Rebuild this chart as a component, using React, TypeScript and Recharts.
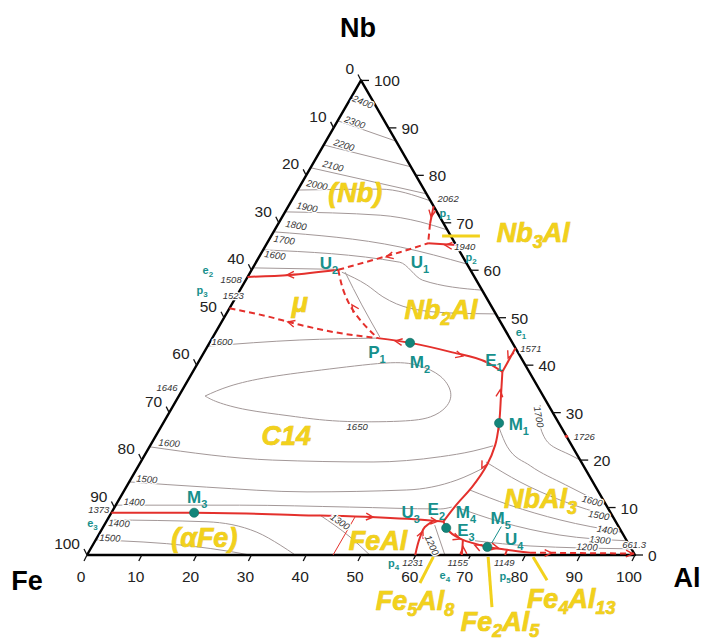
import React from 'react';
import { ScatterChart, Scatter, XAxis, YAxis } from 'recharts';

type P = [number, number]; // [at.% Al, at.% Nb]

// ---------- layout constants ----------
const W = 701;
const H = 642;
const FE_X = 87;
const FE_Y = 555;
const SIDE = 548;
const UNIT = SIDE / 100;
const X_DOMAIN: [number, number] = [-FE_X / UNIT, (W - FE_X) / UNIT];
const Y_DOMAIN: [number, number] = [-(H - FE_Y) / UNIT, FE_Y / UNIT];
const S3 = Math.sqrt(3) / 2;
const toXY = ([al, nb]: P) => ({ x: al + nb / 2, y: nb * S3 });

const RED = '#e4302c';
const TEAL = '#17908c';
const DOT = '#13857a';
const YELLOW = '#f2d11c';
const GRAY = '#a39898';
const FONT = '"Liberation Sans", Arial, Helvetica, sans-serif';

// ---------- data ----------
const CORNERS: P[] = [[0, 0], [100, 0], [0, 100], [0, 0]];
const TICKS = [0, 10, 20, 30, 40, 50, 60, 70, 80, 90, 100];
const CORNER_NAMES = [
  { t: 'Fe', al: -8.3, nb: -5.3 },
  { t: 'Al', al: 111.9, nb: -4.8 },
  { t: 'Nb', al: -6.1, nb: 111.1 },
];

// isotherms (grey)
const ISO_2400: P[] = [[0, 96.3], [5.4, 94.6]];
const ISO_2300: P[] = [[0, 91.5], [12.8, 87.2]];
const ISO_2200: P[] = [[0, 86.4], [18.2, 81.8]];
const ISO_2100: P[] = [[0, 81.6], [23.9, 76.1]];
const ISO_2000: P[] = [[0, 76.9], [14.9, 77.1], [25.4, 74.6]];
const ISO_1900: P[] = [[0, 72.3], [17.7, 71.6], [25.7, 70.2], [31.5, 68.5]];
const ISO_1800: P[] = [[0, 68.1], [24.7, 64.9], [38.7, 61.3]];
const ISO_1700: P[] = [[0, 64.3], [26.2, 61.7], [32.3, 57.9], [44.2, 55.8]];
const ISO_1600_NB: P[] = [[0, 60.5], [15.0, 60.2]];
const ISO_1600_NB2AL: P[] = [[16.7, 59.6], [22.6, 56.9], [26.8, 54.4], [32.9, 52.0], [40.7, 51.0], [49.2, 50.8]];
const ISO_U2_P1: P[] = [[17.3, 59.6], [23.8, 52.7], [30.5, 45.9]];
const ISO_1600_C14_UP: P[] = [[0, 44.0], [16.2, 45.3], [30.2, 45.7]];
const ISO_1650_LOOP: P[] = [
  [4.8, 33.5], [8.3, 35.6], [14.6, 37.5], [24.7, 39.2], [35.1, 40.5], [40.9, 39.8], [45.6, 37.7],
  [49.2, 34.3], [49.9, 31.2], [48.1, 29.1], [43.0, 28.2], [32.0, 28.2], [22.4, 29.3], [13.9, 30.6],
  [7.8, 32.2], [4.8, 33.5],
];
const ISO_1600_C14_LOW: P[] = [[0, 22.8], [23.9, 20.0], [42.4, 19.6], [54.1, 20.7], [59.5, 21.9], [62.6, 23.0]];
const ISO_1500_C14: P[] = [[0, 15.4], [14.7, 14.3], [33.5, 13.3], [51.5, 13.7], [59.6, 15.8], [63.4, 18.5]];
const ISO_1400_C14: P[] = [[0, 10.5], [22.6, 10.5], [42.9, 10.1], [59.6, 9.7], [61.5, 10.1]];
const ISO_1400_FE: P[] = [[0, 7.4], [18.4, 7.0], [28.6, 4.8], [34.2, 2.1], [38.0, 0]];
const ISO_1500_FE: P[] = [[0, 3.2], [17.9, 1.9], [26.0, 0.7], [29.7, 0]];
const ISO_1300_FEAL: P[] = [[38.3, 8.4], [46.1, 3.8], [51.6, 0]];
const ISO_1200_FEAL: P[] = [[60.3, 6.3], [65.3, 0]];
const ISO_1600_NBAL3: P[] = [[61.8, 26.8], [65.3, 22.8], [71.5, 18.8], [79.9, 14.8], [89.5, 10.5]];
const ISO_1500_NBAL3: P[] = [[63.0, 19.6], [71.3, 15.4], [80.5, 11.6], [92.0, 8.0]];
const ISO_1400_NBAL3: P[] = [[63.0, 13.7], [71.9, 10.5], [82.6, 7.4], [95.2, 4.8]];
const ISO_1300_NBAL3: P[] = [[62.3, 10.1], [71.9, 7.0], [84.2, 4.2], [97.0, 3.0]];
const ISO_1200_NBAL3: P[] = [[69.3, 3.0], [79.9, 1.9], [98.7, 1.3]];
const ISO_1700_NBAL3: P[] = [[66.9, 31.6], [68.4, 28.4], [70.6, 25.3], [73.7, 22.8], [77.6, 21.1], [80.0, 20.0]];

// univariant lines (red)
const E2_U2: P[] = [[0, 58.6], [7.5, 59.0], [15.8, 60.1]];
const P1_M2_E1: P[] = [[30.2, 45.7], [36.6, 44.7], [44.9, 42.8], [52.9, 40.5], [56.5, 38.6]];
const LE1_E1: P[] = [[56.4, 43.6], [56.5, 38.6]];
const E1_M1_E2: P[] = [[56.5, 38.6], [58.7, 33.7], [61.3, 27.8], [62.9, 23.2], [63.5, 19.0], [63.1, 14.3], [62.1, 10.5], [61.5, 7.0]];
const E3_TROUGH: P[] = [
  [0, 8.9], [15.1, 8.9], [34.7, 8.4], [47.6, 8.0], [59.6, 7.2], [61.5, 7.0], [62.7, 5.7],
  [67.0, 3.2], [69.2, 2.5], [72.2, 1.7], [76.1, 1.1], [80.6, 0.5],
];
const P4_U3: P[] = [[59.9, 0], [58.9, 3.8], [58.7, 5.9], [59.6, 7.2]];
const LE4_E3: P[] = [[68.4, 0], [67.0, 3.2]];
const P5_U4: P[] = [[76.3, 0], [76.1, 1.1]];
const LP1_START: P[] = [[26.5, 73.5], [27.7, 69.8]];
const LP2_U1: P[] = [[34.7, 65.3], [29.4, 65.7]];
const ORDER_LINE: P[] = [[44.9, 0], [44.9, 8.0]];
// dashed (metastable / uncertain)
const LP1_U1: P[] = [[27.7, 69.8], [29.4, 65.7]];
const U2_U1: P[] = [[15.8, 60.1], [20.7, 62.0], [25.2, 63.8], [29.4, 65.7]];
const U2_P1: P[] = [[15.8, 60.1], [19.7, 54.8], [22.3, 52.0], [25.6, 49.1], [30.2, 45.7]];
const LP3_P1: P[] = [[0, 52.0], [7.3, 50.4], [14.6, 48.5], [21.4, 47.0], [30.2, 45.7]];
const U4_AL: P[] = [[80.6, 0.5], [99.7, 0.3]];

// arrows: [Al, Nb, towards Al, towards Nb]
const ARROWS: [number, number, number, number][] = [
  [7.0, 59.0, 0, 58.6],
  [33.7, 45.1, 30.2, 45.7],
  [47.6, 41.9, 52.9, 40.5],
  [56.1, 41.5, 56.5, 38.6],
  [58.0, 34.8, 56.5, 38.6],
  [62.9, 18.3, 63.1, 14.3],
  [48.2, 8.0, 59.6, 7.2],
  [60.4, 7.1, 61.5, 7.0],
  [58.8, 5.0, 58.7, 5.9],
  [66.4, 3.4, 67.0, 3.2],
  [67.8, 1.7, 67.0, 3.2],
  [69.7, 2.1, 67.0, 3.2],
  [74.3, 1.5, 76.1, 1.1],
  [84.6, 0.4, 99.7, 0.3],
  [99.5, 0.25, 100.5, 0.2],
  [27.2, 71.2, 27.7, 69.8],
  [32.7, 65.3, 29.4, 65.7],
  [23.2, 62.8, 20.7, 62.0],
  [22.0, 52.7, 19.7, 54.8],
  [12.1, 49.1, 7.3, 50.4],
];

const MAXIMA: P[] = [[61.3, 27.8], [36.6, 44.7], [15.1, 8.9], [62.7, 5.7], [72.2, 1.7]];
const CONGRUENT_MARKS: P[] = [[75.0, 25.0]];
const M5_LEADER: P[] = [[72.6, 6.0], [72.6, 2.5]];

const POINT_LABELS = [
  { t: 'U{2}', al: 13.4, nb: 61.5 }, { t: 'U{1}', al: 29.9, nb: 61.7 }, { t: 'P{1}', al: 31.5, nb: 42.8 },
  { t: 'M{2}', al: 40.4, nb: 40.7 }, { t: 'E{1}', al: 53.7, nb: 41.1 }, { t: 'M{1}', al: 65.0, nb: 27.6 },
  { t: 'M{3}', al: 14.0, nb: 12.2 }, { t: 'U{3}', al: 54.5, nb: 9.1 }, { t: 'E{2}', al: 58.9, nb: 9.7 },
  { t: 'M{4}', al: 64.6, nb: 9.1 }, { t: 'E{3}', al: 66.5, nb: 5.3 }, { t: 'M{5}', al: 71.6, nb: 7.8 },
  { t: 'U{4}', al: 76.3, nb: 3.3 },
];
const BINARY_LABELS = [
  { t: 'p{1}', al: 29.3, nb: 72.1 }, { t: 'p{2}', al: 38.7, nb: 62.8 }, { t: 'e{1}', al: 55.7, nb: 47.0 },
  { t: 'e{2}', al: -8.0, nb: 60.1 }, { t: 'p{3}', al: -6.9, nb: 55.8 }, { t: 'e{3}', al: -2.4, nb: 6.8 },
  { t: 'p{4}', al: 56.8, nb: -1.7 }, { t: 'e{4}', al: 67.4, nb: -4.2 }, { t: 'p{5}', al: 78.5, nb: -4.4 },
];
const TEMP_LABELS = [
  { t: '2400', al: 2.6, nb: 95.5, r: 22 }, { t: '2300', al: 3.3, nb: 91.2, r: 20 },
  { t: '2200', al: 3.7, nb: 86.4, r: 18 }, { t: '2100', al: 3.9, nb: 82.0, r: 15 },
  { t: '2000', al: 3.0, nb: 78.0, r: 12 }, { t: '1900', al: 3.5, nb: 73.3, r: 12 },
  { t: '1800', al: 3.4, nb: 69.5, r: 10 }, { t: '1700', al: 2.8, nb: 66.4, r: 8 },
  { t: '1600', al: 2.7, nb: 63.2, r: 8 }, { t: '1508', al: -2.7, nb: 58.0, r: 0 },
  { t: '1523', al: -0.6, nb: 54.6, r: 0 }, { t: '1600', al: 2.2, nb: 44.9, r: 0 },
  { t: '1646', al: -3.0, nb: 35.2, r: 0 }, { t: '1650', al: 35.8, nb: 27.0, r: 0 },
  { t: '1600', al: 3.2, nb: 23.6, r: 5 }, { t: '1500', al: 2.9, nb: 16.0, r: 5 },
  { t: '1400', al: 3.0, nb: 11.2, r: 3 }, { t: '1373', al: -2.6, nb: 9.5, r: 0 },
  { t: '1400', al: 2.5, nb: 6.7, r: 3 }, { t: '1500', al: 2.4, nb: 3.6, r: 3 },
  { t: '1300', al: 42.7, nb: 7.0, r: 35 }, { t: '1231', al: 60.3, nb: -1.7, r: 0 },
  { t: '1200', al: 61.9, nb: 2.1, r: 65 }, { t: '1155', al: 68.5, nb: -1.7, r: 0 },
  { t: '1149', al: 77.0, nb: -1.7, r: 0 }, { t: '1600', al: 86.5, nb: 11.4, r: 15 },
  { t: '1500', al: 89.2, nb: 8.4, r: 10 }, { t: '1400', al: 92.3, nb: 5.3, r: 8 },
  { t: '1300', al: 92.0, nb: 3.2, r: 5 }, { t: '1200', al: 90.4, nb: 1.7, r: 3 },
  { t: '661.3', al: 98.8, nb: 2.1, r: 0 }, { t: '2062', al: 28.3, nb: 75.2, r: 0 },
  { t: '1940', al: 36.5, nb: 64.9, r: 0 }, { t: '1571', al: 59.2, nb: 43.6, r: 0 },
  { t: '1700', al: 67.9, nb: 29.1, r: 80 }, { t: '1726', al: 78.3, nb: 24.9, r: 0 },
];
const PHASE_LABELS = [
  { t: '(Nb)', al: 10.7, nb: 76.5 },
  { t: 'Nb{3}Al', al: 47.5, nb: 67.9 },
  { t: 'μ', al: 12.2, nb: 53.3 },
  { t: 'Nb{2}Al', al: 38.7, nb: 51.8 },
  { t: 'C14', al: 23.7, nb: 25.3 },
  { t: 'NbAl{3}', al: 76.8, nb: 11.9 },
  { t: '(αFe)', al: 19.5, nb: 3.8 },
  { t: 'FeAl', al: 51.5, nb: 3.2 },
  { t: 'Fe{5}Al{8}', al: 64.6, nb: -9.5 },
  { t: 'Fe{2}Al{5}', al: 82.3, nb: -13.9 },
  { t: 'Fe{4}Al{13}', al: 92.9, nb: -9.1 },
];
const PHASE_POINTERS: P[][] = [
  [[31.2, 67.2], [38.1, 67.2]],
  [[63.7, -5.9], [63.4, -0.4]],
  [[79.4, -11.0], [73.4, -0.4]],
  [[86.6, -5.3], [81.6, -0.4]],
];

// ---------- series tables built from the arrays ----------
type Curve = 'linear' | 'monotoneX' | 'monotoneY' | 'natural';
const GREY_LINES: { pts: P[]; curve: Curve }[] = [
  { pts: ISO_2400, curve: 'linear' }, { pts: ISO_2300, curve: 'linear' }, { pts: ISO_2200, curve: 'linear' },
  { pts: ISO_2100, curve: 'linear' }, { pts: ISO_2000, curve: 'monotoneX' }, { pts: ISO_1900, curve: 'monotoneX' },
  { pts: ISO_1800, curve: 'monotoneX' }, { pts: ISO_1700, curve: 'monotoneX' }, { pts: ISO_1600_NB, curve: 'linear' },
  { pts: ISO_1600_NB2AL, curve: 'monotoneX' }, { pts: ISO_U2_P1, curve: 'monotoneY' },
  { pts: ISO_1600_C14_UP, curve: 'monotoneX' }, { pts: ISO_1650_LOOP, curve: 'natural' },
  { pts: ISO_1600_C14_LOW, curve: 'monotoneX' }, { pts: ISO_1500_C14, curve: 'monotoneX' },
  { pts: ISO_1400_C14, curve: 'monotoneX' }, { pts: ISO_1400_FE, curve: 'monotoneX' },
  { pts: ISO_1500_FE, curve: 'monotoneX' }, { pts: ISO_1300_FEAL, curve: 'monotoneX' },
  { pts: ISO_1200_FEAL, curve: 'linear' }, { pts: ISO_1600_NBAL3, curve: 'monotoneX' },
  { pts: ISO_1500_NBAL3, curve: 'monotoneX' }, { pts: ISO_1400_NBAL3, curve: 'monotoneX' },
  { pts: ISO_1300_NBAL3, curve: 'monotoneX' }, { pts: ISO_1200_NBAL3, curve: 'monotoneX' },
  { pts: ISO_1700_NBAL3, curve: 'monotoneY' },
];
const RED_LINES: { pts: P[]; curve: Curve; dashed?: boolean; thin?: boolean }[] = [
  { pts: E2_U2, curve: 'monotoneX' },
  { pts: P1_M2_E1, curve: 'monotoneX' },
  { pts: LE1_E1, curve: 'linear' },
  { pts: E1_M1_E2, curve: 'monotoneY' },
  { pts: E3_TROUGH, curve: 'monotoneX' },
  { pts: P4_U3, curve: 'monotoneY' },
  { pts: LE4_E3, curve: 'linear' },
  { pts: P5_U4, curve: 'linear' },
  { pts: LP1_START, curve: 'linear' },
  { pts: LP2_U1, curve: 'linear' },
  { pts: ORDER_LINE, curve: 'linear', thin: true },
  { pts: LP1_U1, curve: 'linear', dashed: true },
  { pts: U2_U1, curve: 'monotoneX', dashed: true },
  { pts: U2_P1, curve: 'monotoneY', dashed: true },
  { pts: LP3_P1, curve: 'monotoneX', dashed: true },
  { pts: U4_AL, curve: 'linear', dashed: true },
];

// ---------- shapes ----------
const Empty = () => <g />;

function rich(s: string, sub: number, shift: number) {
  const parts = s.split(/(\{[^}]*\})/).filter((p) => p.length > 0);
  let down = false;
  return parts.map((p, i) => {
    if (p.startsWith('{')) {
      const el = (
        <tspan key={i} fontSize={sub} dy={down ? 0 : shift}>
          {p.slice(1, -1)}
        </tspan>
      );
      down = true;
      return el;
    }
    const el = (
      <tspan key={i} dy={down ? -shift : 0}>
        {p}
      </tspan>
    );
    down = false;
    return el;
  });
}

const makeText =
  (o: {
    size: number;
    sub: number;
    shift: number;
    fill: string;
    weight?: string | number;
    italic?: boolean;
    stroke?: string;
    strokeWidth?: number;
    halo?: boolean;
  }) =>
  (props: any) => {
    const { cx, cy, payload } = props;
    if (cx == null || cy == null) return <g />;
    const r = payload.r || 0;
    return (
      <text
        x={cx}
        y={cy + o.size * 0.36}
        textAnchor="middle"
        fontSize={o.size}
        fontFamily={FONT}
        fontWeight={o.weight || 'normal'}
        fontStyle={o.italic ? 'italic' : 'normal'}
        fill={o.fill}
        stroke={o.halo ? '#fff' : o.stroke}
        strokeWidth={o.halo ? 2.5 : o.strokeWidth}
        paintOrder="stroke"
        transform={r ? `rotate(${r} ${cx} ${cy})` : undefined}
      >
        {rich(payload.t, o.sub, o.shift)}
      </text>
    );
  };

const PhaseText = makeText({ size: 27, sub: 18, shift: 6, fill: YELLOW, weight: 'bold', italic: true, stroke: '#dcb800', strokeWidth: 0.6 });
const PointText = makeText({ size: 17, sub: 11, shift: 5, fill: TEAL, weight: 'bold' });
const BinaryText = makeText({ size: 11, sub: 8, shift: 3, fill: TEAL, weight: 'bold' });
const TempText = makeText({ size: 9.5, sub: 8, shift: 3, fill: '#333', italic: true, halo: true });
const CornerText = makeText({ size: 27, sub: 18, shift: 6, fill: '#000', weight: 'bold' });

const BottomTick = (props: any) => {
  const { cx, cy, payload } = props;
  return (
    <g>
      <line x1={cx} y1={cy} x2={cx - 3} y2={cy + 6} stroke="#111" strokeWidth={1.3} />
      <text x={cx - 6} y={cy + 27} textAnchor="middle" fontSize={15.5} fontFamily={FONT} fill="#222">
        {payload.t}
      </text>
    </g>
  );
};
const LeftTick = (props: any) => {
  const { cx, cy, payload } = props;
  return (
    <g>
      <line x1={cx} y1={cy} x2={cx - 3} y2={cy - 6} stroke="#111" strokeWidth={1.3} />
      <text x={cx - 7} y={cy - 6} textAnchor="end" fontSize={15.5} fontFamily={FONT} fill="#222">
        {payload.t}
      </text>
    </g>
  );
};
const RightTick = (props: any) => {
  const { cx, cy, payload } = props;
  return (
    <g>
      <line x1={cx} y1={cy} x2={cx + 8} y2={cy} stroke="#111" strokeWidth={1.3} />
      <text x={cx + 13} y={cy + 6} textAnchor="start" fontSize={15.5} fontFamily={FONT} fill="#222">
        {payload.t}
      </text>
    </g>
  );
};

const ArrowShape = (props: any) => {
  const { cx, cy, payload } = props;
  const dx = payload.da + payload.dn / 2;
  const dy = -payload.dn * S3;
  const len = Math.hypot(dx, dy) || 1;
  const ux = dx / len;
  const uy = dy / len;
  const L = 7;
  const Wd = 3.4;
  const bx = cx - ux * L;
  const by = cy - uy * L;
  return (
    <path
      d={`M${bx - uy * Wd},${by + ux * Wd} L${cx},${cy} L${bx + uy * Wd},${by - ux * Wd}`}
      fill="none"
      stroke={RED}
      strokeWidth={1.4}
    />
  );
};

const DotShape = (props: any) => <circle cx={props.cx} cy={props.cy} r={4.6} fill={DOT} stroke="#0d6a60" strokeWidth={0.6} />;
const MarkShape = (props: any) => <circle cx={props.cx} cy={props.cy} r={1.6} fill={RED} />;

const withXY = (rows: { al: number; nb: number }[]) => rows.map((r) => ({ ...r, ...toXY([r.al, r.nb]) }));

export default function App() {
  const lineSeries = (key: string, pts: P[], stroke: string, width: number, curve: Curve, dash?: string) => (
    <Scatter
      key={key}
      data={pts.map(toXY)}
      line={{ stroke, strokeWidth: width, strokeDasharray: dash, strokeLinejoin: 'round' }}
      lineJointType={curve}
      shape={Empty}
      fill={stroke}
      isAnimationActive={false}
      legendType="none"
    />
  );
  const pointSeries = (key: string, data: any[], shape: any) => (
    <Scatter key={key} data={data} shape={shape} fill="#000" isAnimationActive={false} legendType="none" />
  );

  return (
    <div style={{ position: 'absolute', left: 0, top: 0, width: W, height: H, background: '#fff', fontFamily: FONT }}>
      <ScatterChart width={W} height={H} margin={{ top: 0, right: 0, bottom: 0, left: 0 }}>
        <XAxis type="number" dataKey="x" domain={X_DOMAIN} hide allowDataOverflow />
        <YAxis type="number" dataKey="y" domain={Y_DOMAIN} hide allowDataOverflow />

        {GREY_LINES.map((g, i) => lineSeries(`g${i}`, g.pts, GRAY, 1, g.curve))}

        {lineSeries('frame', CORNERS, '#000', 2.4, 'linear')}

        {PHASE_POINTERS.map((p, i) => lineSeries(`yp${i}`, p, YELLOW, 3, 'linear'))}

        {RED_LINES.map((r, i) =>
          lineSeries(`r${i}`, r.pts, RED, r.thin ? 1 : 2, r.curve, r.dashed ? '6 4' : undefined)
        )}
        {lineSeries('m5lead', M5_LEADER, TEAL, 1, 'linear')}

        {pointSeries(
          'arrows',
          ARROWS.map(([a, n, ta, tn]) => ({ ...toXY([a, n]), da: ta - a, dn: tn - n })),
          ArrowShape
        )}
        {pointSeries('marks', CONGRUENT_MARKS.map(toXY), MarkShape)}
        {pointSeries('dots', MAXIMA.map(toXY), DotShape)}

        {pointSeries('bticks', TICKS.map((v) => ({ ...toXY([v, 0]), t: String(v) })), BottomTick)}
        {pointSeries('lticks', TICKS.map((v) => ({ ...toXY([0, 100 - v]), t: String(v) })), LeftTick)}
        {pointSeries('rticks', TICKS.map((v) => ({ ...toXY([100 - v, v]), t: String(v) })), RightTick)}

        {pointSeries('temps', withXY(TEMP_LABELS), TempText)}
        {pointSeries('binlabels', withXY(BINARY_LABELS), BinaryText)}
        {pointSeries('ptlabels', withXY(POINT_LABELS), PointText)}
        {pointSeries('phases', withXY(PHASE_LABELS), PhaseText)}
        {pointSeries('corners', withXY(CORNER_NAMES), CornerText)}
      </ScatterChart>
    </div>
  );
}
